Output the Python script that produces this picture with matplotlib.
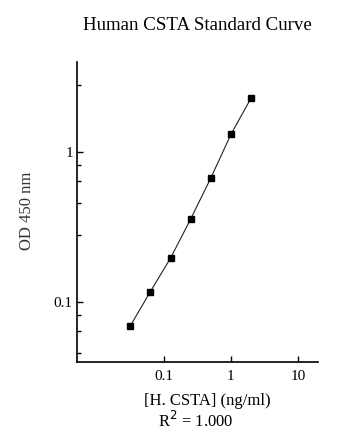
import matplotlib
matplotlib.use("Agg")
import matplotlib.pyplot as plt
from matplotlib.ticker import FixedLocator, NullFormatter, FixedFormatter

plt.rcParams['font.family'] = ['Liberation Serif', 'DejaVu Serif']

conc = [2, 1, 0.5, 0.25, 0.125, 0.0625, 0.03125]
od = [2.30, 1.318, 0.674, 0.359, 0.197, 0.118, 0.0695]

x_ticks = [0.1, 1, 10]
x_tick_labels = ["0.1", "1", "10"]
y_ticks = [0.1, 1]
y_tick_labels = ["0.1", "1"]
y_minor = [0.046, 0.064, 0.082, 0.28, 0.46, 0.64, 0.82, 2.8]

title = "Human CSTA Standard Curve"
xlabel = "[H. CSTA] (ng/ml)"
ylabel = "OD 450 nm"
r2_text = "R$^2$ = 1.000"

W, H = 360, 444
fig = plt.figure(figsize=(W / 100, H / 100), dpi=100)
ax = fig.add_axes([77 / W, 1 - 362 / H, (318 - 77) / W, (362 - 62) / H])

ax.plot(conc, od, color='#222222', lw=0.8, marker='s', markersize=4.2,
        markerfacecolor='black', markeredgecolor='black')
ax.set_xscale('log')
ax.set_yscale('log')
ax.set_xlim(0.005, 20)
ax.set_ylim(0.04, 4)

for s in ['top', 'right']:
    ax.spines[s].set_visible(False)
for s in ['left', 'bottom']:
    ax.spines[s].set_linewidth(1.2)
    ax.spines[s].set_color('black')

ax.xaxis.set_major_locator(FixedLocator(x_ticks))
ax.xaxis.set_major_formatter(FixedFormatter(x_tick_labels))
ax.xaxis.set_minor_locator(FixedLocator([]))
ax.yaxis.set_major_locator(FixedLocator(y_ticks))
ax.yaxis.set_major_formatter(FixedFormatter(y_tick_labels))
ax.yaxis.set_minor_locator(FixedLocator(y_minor))
ax.yaxis.set_minor_formatter(NullFormatter())

ax.tick_params(axis='x', which='major', direction='in', length=4.5, width=1.0,
               labelsize=11, pad=6)
ax.tick_params(axis='y', which='major', direction='in', length=4.0, width=1.0,
               labelsize=11, pad=3)
ax.tick_params(axis='y', which='minor', direction='in', length=2.6, width=1.0)

fig.text(197.5 / W, 1 - 30 / H, title, ha='center', va='baseline', fontsize=13.6)
fig.text(207.5 / W, 1 - 405 / H, xlabel, ha='center', va='baseline', fontsize=12)
fig.text(196 / W, 1 - 427 / H, r2_text, ha='center', va='baseline', fontsize=12)
fig.text(27 / W, 1 - 211 / H, ylabel, ha='center', va='center', rotation=90,
         fontsize=12, color='#333333')

fig.savefig("out.png", dpi=100)
